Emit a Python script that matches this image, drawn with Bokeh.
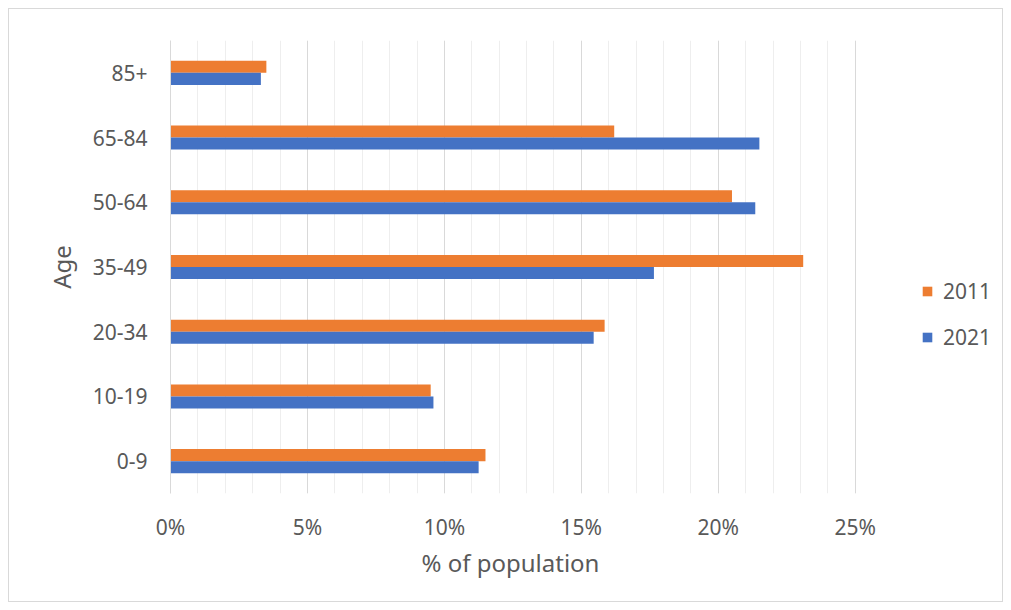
from bokeh.plotting import figure
from bokeh.models import (ColumnDataSource, FactorRange, Range1d, FixedTicker,
                          PrintfTickFormatter, Legend, LegendItem, Title)
from bokeh.transform import dodge
from bokeh.embed import file_html
from bokeh.resources import INLINE

ages = ["0-9", "10-19", "20-34", "35-49", "50-64", "65-84", "85+"]
pct_2011 = [11.5, 9.5, 15.85, 23.1, 20.5, 16.2, 3.5]
pct_2021 = [11.25, 9.6, 15.45, 17.65, 21.35, 21.5, 3.3]
x_ticks = [0, 5, 10, 15, 20, 25]
x_minor = list(range(0, 26))

FONT = "Noto Sans"
TXT = "#595959"

src = ColumnDataSource(dict(age=ages, y2011=pct_2011, y2021=pct_2021))

# frame extends right of 25% so the legend can sit inside it; grid stops at 25%
p = figure(width=995, height=594, y_range=FactorRange(*ages),
           x_range=Range1d(0, 30.34), output_backend="svg", toolbar_location=None,
           min_border_left=161, min_border_right=3, min_border_top=31,
           min_border_bottom=110)
p.styles = {"border": "1px solid #d9d9d9", "box-sizing": "border-box",
            "margin-left": "8px", "margin-top": "8px"}

r1 = p.hbar(y=dodge("age", 0.093, range=p.y_range), right="y2011", left=0,
            height=0.186, source=src, color="#ED7D31", line_color=None)
r2 = p.hbar(y=dodge("age", -0.093, range=p.y_range), right="y2021", left=0,
            height=0.186, source=src, color="#4472C4", line_color=None)

p.outline_line_color = None

# x axis
p.xaxis.ticker = FixedTicker(ticks=x_ticks, minor_ticks=x_minor)
p.xaxis.formatter = PrintfTickFormatter(format="%d%%")
p.xaxis.axis_line_color = None
p.xaxis.major_tick_line_color = None
p.xaxis.minor_tick_line_color = None
p.xaxis.major_label_text_font = FONT
p.xaxis.major_label_text_font_size = "21px"
p.xaxis.major_label_text_color = TXT
p.xaxis.major_label_standoff = 13

# x axis title, placed under the 0-25% span (not the whole frame)
xtitle = Title(text="% of population", align="left", offset=251,
               text_font=FONT, text_font_size="24px", text_font_style="normal",
               text_color=TXT, standoff=0)
p.add_layout(xtitle, "below")

# y axis
p.yaxis.axis_line_color = "#d9d9d9"
p.yaxis.major_tick_line_color = None
p.yaxis.minor_tick_line_color = None
p.yaxis.major_label_text_font = FONT
p.yaxis.major_label_text_font_size = "21px"
p.yaxis.major_label_text_color = TXT
p.yaxis.major_label_standoff = 17
p.yaxis.axis_label = "Age"
p.yaxis.axis_label_text_font = FONT
p.yaxis.axis_label_text_font_size = "24px"
p.yaxis.axis_label_text_font_style = "normal"
p.yaxis.axis_label_text_color = TXT
p.yaxis.axis_label_standoff = 12

# grids
p.ygrid.grid_line_color = None
p.xgrid.grid_line_color = "#d9d9d9"
p.xgrid.grid_line_width = 1
p.xgrid.minor_grid_line_color = "#eeeeee"
p.xgrid.minor_grid_line_width = 1

legend = Legend(items=[LegendItem(label="2011", renderers=[r1]),
                       LegendItem(label="2021", renderers=[r2])],
                location=(751, 142), orientation="vertical",
                background_fill_alpha=0, border_line_color=None,
                glyph_width=12, glyph_height=12, label_height=20,
                spacing=18, label_standoff=10, padding=0, margin=0,
                label_text_font=FONT, label_text_font_size="21px",
                label_text_color=TXT)
p.add_layout(legend, "center")

open("out.html", "w").write(file_html(p, INLINE))
